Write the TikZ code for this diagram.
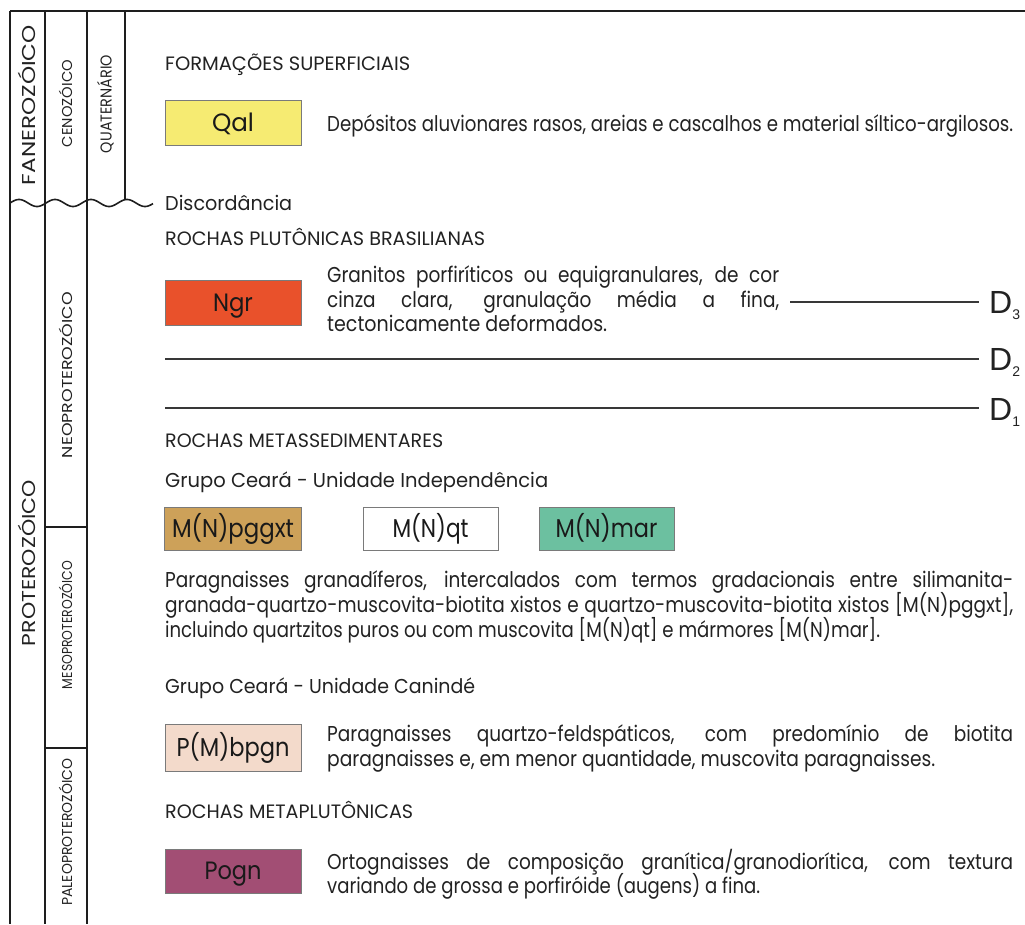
\documentclass[tikz,border=0pt]{standalone}
\usepackage{fontspec}
\setmainfont{Poppins}
\newfontfamily\dfont{Liberation Sans}
\usepackage{graphicx}
\definecolor{ink}{HTML}{222222}
\definecolor{framec}{HTML}{1E1E1E}
\definecolor{boxc}{HTML}{7A7A7A}
\definecolor{cQal}{HTML}{F6EB72}
\definecolor{cNgr}{HTML}{E9512B}
\definecolor{cPgg}{HTML}{CDA159}
\definecolor{cMar}{HTML}{6CC0A0}
\definecolor{cPMb}{HTML}{F3DACB}
\definecolor{cPog}{HTML}{A24E74}
\newcommand\capfit[3]{\resizebox{#1}{#2}{\raisebox{0pt}[\fontcharht\font`X][0pt]{#3}}}
\newlength\jlen
\newcommand\jline[2]{\settowidth\jlen{#2}\ifdim\jlen<\dimexpr#1*100/86\relax\scalebox{0.86}[1]{\makebox[\dimexpr#1*100/86\relax][s]{#2}}\else\resizebox{#1}{\height}{#2}\fi}
\newcommand\bodyf{\fontsize{21.5}{25}\selectfont}
\begin{document}
\begin{tikzpicture}[x=1pt,y=-1pt,
  txt/.style={anchor=base west, inner sep=0pt, text=ink, font=\bodyf},
  vlab/.style={rotate=90, inner sep=0pt, text=ink, font=\fontsize{16}{16}\selectfont},
  unit/.style={draw=boxc, line width=0.9pt, minimum width=136pt, minimum height=44pt, inner sep=0pt, text=black!90, font=\fontsize{24}{24}\selectfont},
  frame/.style={draw=framec, line width=1.8pt},
  dline/.style={draw=ink!90, line width=1.8pt},
  dlab/.style={anchor=base west, inner sep=0pt, text=ink, font=\dfont\fontsize{32}{32}\selectfont}]
\useasboundingbox (0,0) rectangle (1025,924);
% frame
\coordinate (tl) at (10,11); \coordinate (tr) at (1025,11);
\draw[frame, line width=2.5pt] (tl) -- (tr);
\draw[frame] (10,11) -- (10,924);
\draw[frame] (45,11) -- (45,924);
\draw[frame] (87,11) -- (87,924);
\draw[frame] (125,11) -- (125,199.7);
\draw[frame] (45,527) -- (87,527);
\draw[frame] (45,748) -- (87,748);
% discordance wave
\draw[frame, line width=1.6pt] plot[domain=10:153, samples=150, smooth] (\x,{203-3.5*sin(10*(\x-10))});
% column labels
\node[vlab] (fan) at (28.5,105) {\capfit{160pt}{13pt}{FANEROZÓICO}};
\node[vlab] (cen) at (67,103.5) {\capfit{87pt}{10pt}{CENOZÓICO}};
\node[vlab] (qua) at (106,104) {\capfit{98pt}{11pt}{QUATERNÁRIO}};
\node[vlab] (pro) at (28.5,563) {\capfit{166pt}{13pt}{PROTEROZÓICO}};
\node[vlab] (neo) at (67,375) {\capfit{166pt}{10pt}{NEOPROTEROZÓICO}};
\node[vlab] (mes) at (67,625) {\capfit{128pt}{10pt}{MESOPROTEROZÓICO}};
\node[vlab] (pal) at (67,832) {\capfit{147pt}{10pt}{PALEOPROTEROZÓICO}};
% headers
\node[txt] (h1) at (165,70) {\capfit{245pt}{13.5pt}{FORMAÇÕES SUPERFICIAIS}};
\node[txt] (disc) at (165,210) {\capfit{127pt}{14pt}{Discordância}};
\node[txt] (h2) at (165,245) {\capfit{320pt}{13.5pt}{ROCHAS PLUTÔNICAS BRASILIANAS}};
\node[txt] (h3) at (165,447) {\capfit{278pt}{13.5pt}{ROCHAS METASSEDIMENTARES}};
\node[txt] (h4) at (165,487) {\capfit{383pt}{14pt}{Grupo Ceará - Unidade Independência}};
\node[txt] (h5) at (165,693) {\capfit{310pt}{14pt}{Grupo Ceará - Unidade Canindé}};
\node[txt] (h6) at (165,818) {\capfit{248pt}{13.5pt}{ROCHAS METAPLUTÔNICAS}};
% unit boxes
\node[unit, fill=cQal, minimum height=45pt] (qal) at (233,122.5) {\capfit{42pt}{17.5pt}{Qal}};
\node[unit, fill=cNgr, minimum height=45pt] (ngr) at (233,302.5) {\capfit{40pt}{17.5pt}{Ngr}};
\node[unit, fill=cPgg, minimum width=137pt, minimum height=43pt] (pgg) at (233,528.5) {\capfit{122pt}{18pt}{M(N)pggxt}};
\node[unit, fill=white, minimum width=135pt, minimum height=43pt] (mqt) at (430.5,528.5) {\capfit{76pt}{18pt}{M(N)qt}};
\node[unit, fill=cMar, minimum width=135pt, minimum height=43pt] (mar) at (606.5,528.5) {\capfit{102pt}{18pt}{M(N)mar}};
\node[unit, fill=cPMb, minimum height=47pt] (pmb) at (233,747.5) {\capfit{113pt}{18pt}{P(M)bpgn}};
\node[unit, fill=cPog, minimum height=44pt] (pog) at (233,871) {\capfit{57pt}{17.5pt}{Pogn}};
% descriptions
\node[txt] (dqal) at (327,131) {\capfit{686pt}{15pt}{Depósitos aluvionares rasos, areias e cascalhos e material síltico-argilosos.}};
\node[txt] (dngr1) at (327,282) {\jline{452pt}{Granitos porfiríticos ou equigranulares, de cor}};
\node[txt] (dngr2) at (327,307) {\jline{452pt}{cinza clara, granulação média a fina,}};
\node[txt] (dngr3) at (327,331) {\capfit{280pt}{15pt}{tectonicamente deformados.}};
\node[txt] (dpg1) at (165,587) {\jline{848pt}{Paragnaisses granadíferos, intercalados com termos gradacionais entre silimanita-}};
\node[txt] (dpg2) at (165,612) {\jline{848pt}{granada-quartzo-muscovita-biotita xistos e quartzo-muscovita-biotita xistos [M(N)pggxt],}};
\node[txt] (dpg3) at (165,637) {\capfit{715pt}{15pt}{incluindo quartzitos puros ou com muscovita [M(N)qt] e mármores [M(N)mar].}};
\node[txt] (dpm1) at (327,741) {\jline{686pt}{Paragnaisses quartzo-feldspáticos, com predomínio de biotita}};
\node[txt] (dpm2) at (327,766) {\capfit{608pt}{15pt}{paragnaisses e, em menor quantidade, muscovita paragnaisses.}};
\node[txt] (dpo1) at (327,869) {\jline{686pt}{Ortognaisses de composição granítica/granodiorítica, com textura}};
\node[txt] (dpo2) at (327,893) {\capfit{433pt}{15pt}{variando de grossa e porfiróide (augens) a fina.}};
% deformation phases
\node[dlab] (d3) at (989,313) {D\raisebox{-6pt}{\fontsize{14}{14}\selectfont 3}};
\node[dlab] (d2) at (989,370) {D\raisebox{-6pt}{\fontsize{14}{14}\selectfont 2}};
\node[dlab] (d1) at (989,420) {D\raisebox{-6pt}{\fontsize{14}{14}\selectfont 1}};
\coordinate (s3) at (790,302); \coordinate (e3) at (979,302);
\coordinate (s2) at (165,359); \coordinate (e2) at (979,359);
\coordinate (s1) at (165,408); \coordinate (e1) at (979,408);
\draw[dline] (s3) -- (e3);
\draw[dline] (s2) -- (e2);
\draw[dline] (s1) -- (e1);
\end{tikzpicture}
\end{document}
